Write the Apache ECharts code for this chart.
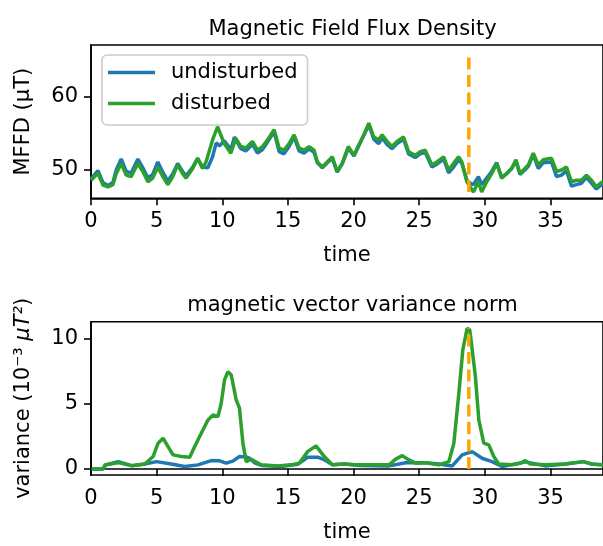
<!DOCTYPE html>
<html>
<head>
<meta charset="utf-8">
<script src="https://cdn.jsdelivr.net/npm/echarts@6/dist/echarts.min.js"></script>
<style>html,body{margin:0;padding:0;background:#fff}#c{width:603px;height:546px}</style>
</head>
<body>
<div id="c"></div>
<script>
// ---- Top panel: Magnetic Field Flux Density (µT) ----
var topTimeDist = [0.0,0.53,0.91,1.29,1.67,1.92,2.3,2.68,3.06,3.57,3.95,4.33,4.7,5.09,5.47,5.85,6.23,6.6,6.98,7.24,7.75,8.12,8.5,8.76,9.26,9.64,10.15,10.65,11.03,11.41,11.79,12.3,12.68,13.06,13.44,13.95,14.33,14.7,15.09,15.47,15.85,16.23,16.61,16.99,17.24,17.62,18.0,18.38,18.75,19.13,19.6,20.03,20.4,20.78,21.16,21.54,21.92,22.17,22.55,22.93,23.31,23.81,24.19,24.7,25.08,25.46,25.97,26.35,26.86,27.24,27.62,28.0,28.25,28.63,28.88,29.13,29.51,29.76,30.14,30.52,30.9,31.28,31.66,32.04,32.37,32.68,33.05,33.31,33.69,34.07,34.45,35.08,35.46,35.84,36.22,36.6,36.98,37.36,37.74,38.12,38.5,38.8,39.0];
var topDisturbed = [48.6,49.55,47.95,47.7,48.0,49.5,50.9,49.3,49.1,50.9,49.8,48.4,48.9,50.4,49.1,48.0,49.1,50.7,49.5,48.9,50.2,51.6,50.2,51.1,54.1,55.9,53.6,52.3,54.3,53.2,53.0,53.9,52.7,53.2,54.1,55.5,53.0,52.7,53.6,54.8,53.0,52.7,53.2,52.7,51.1,50.4,51.1,51.8,49.8,50.9,53.2,52.0,53.4,54.8,56.4,54.5,54.1,54.8,53.9,53.2,53.9,54.5,52.5,52.0,52.5,52.7,50.7,51.1,51.8,50.0,50.9,51.8,51.1,48.4,47.7,47.0,48.4,47.0,48.4,49.5,50.9,48.9,49.5,50.2,51.4,49.5,50.2,50.7,52.3,50.7,51.4,51.6,49.8,50.0,50.4,48.4,48.6,48.6,49.3,48.6,47.7,48.2,48.4];
var topTimeUndist = [0.0,0.53,0.91,1.29,1.67,1.92,2.3,2.68,3.06,3.57,3.95,4.33,4.7,5.09,5.47,5.85,6.23,6.6,6.98,7.24,7.75,8.12,8.5,8.9,9.26,9.54,9.8,10.15,10.65,10.93,11.41,11.79,12.3,12.68,13.06,13.44,13.95,14.33,14.7,15.09,15.47,15.85,16.23,16.61,16.99,17.24,17.62,18.0,18.38,18.75,19.13,19.6,20.03,20.4,20.78,21.16,21.54,21.92,22.17,22.55,22.93,23.31,23.81,24.19,24.7,25.08,25.46,25.97,26.35,26.86,27.24,27.62,28.0,28.25,28.63,28.88,29.13,29.51,29.76,30.14,30.52,30.9,31.28,31.66,32.04,32.37,32.68,33.05,33.31,33.69,34.07,34.45,35.08,35.46,35.84,36.22,36.6,36.98,37.36,37.74,38.12,38.5,38.8,39.0];
var topUndisturbed = [48.8,49.9,48.3,47.9,48.3,50.0,51.5,49.8,49.6,51.5,50.3,48.9,49.4,51.1,49.7,48.5,49.5,50.9,49.8,49.2,50.4,51.6,50.4,50.3,51.8,53.7,53.3,54.0,52.8,54.5,52.9,52.6,53.5,52.3,52.8,53.8,55.2,52.5,52.2,53.2,54.5,52.6,52.3,52.9,52.4,51.0,50.3,51.0,51.6,49.7,50.8,53.0,51.9,53.3,54.7,56.2,54.2,53.6,54.4,53.5,52.9,53.6,54.2,52.2,51.7,52.2,52.4,50.4,50.8,51.5,49.6,50.4,51.4,50.9,48.6,48.2,48.0,49.1,48.0,48.9,49.8,51.0,49.0,49.5,50.2,51.2,49.4,50.0,50.5,52.1,50.2,51.0,51.1,49.1,49.3,49.9,47.8,48.0,48.2,49.0,48.2,47.4,47.9,48.1];

// ---- Bottom panel: magnetic vector variance norm (1e-3 µT²) ----
var botTimeDist = [0.05,0.93,1.06,2.07,3.09,4.1,4.73,5.11,5.49,5.87,6.25,6.89,7.52,7.9,8.4,8.91,9.29,9.67,9.92,10.17,10.43,10.68,11.06,11.31,11.57,11.82,12.2,12.96,14.22,15.24,15.87,16.5,17.14,17.77,18.4,19.29,20.17,21.44,22.7,23.21,23.71,24.22,24.73,25.49,26.5,27.26,27.64,28.02,28.32,28.65,28.85,28.98,29.28,29.54,29.92,30.3,30.68,31.06,32.07,32.7,33.08,33.46,34.6,36.12,37.51,38.14,38.78,39.0];
var botDisturbed = [0,0,0.31,0.48,0.25,0.38,0.95,1.98,2.36,1.72,1.08,0.95,0.9,1.72,2.75,3.77,4.15,4.02,5.05,6.85,7.48,7.23,5.31,4.67,1.98,0.56,0.75,0.31,0.23,0.31,0.44,1.33,1.77,0.95,0.31,0.38,0.31,0.31,0.31,0.75,1.02,0.69,0.44,0.48,0.31,0.56,1.98,5.82,9.15,10.82,10.69,9.67,7.1,3.77,1.98,1.85,0.95,0.38,0.31,0.44,0.64,0.38,0.31,0.38,0.56,0.38,0.31,0.31];
var botTimeUndist = [0.05,0.93,1.1,2.07,3.09,4.0,4.99,6.0,7.14,8.15,9.16,9.8,10.3,10.8,11.31,11.8,12.07,12.5,13.0,14.48,15.74,16.5,17.26,17.8,18.4,19.29,20.5,22.7,23.97,25.49,26.5,27.52,28.27,29.03,29.79,30.55,31.31,33.1,34.6,36.12,37.51,38.14,39.0];
var botUndisturbed = [0,0,0.3,0.55,0.25,0.35,0.56,0.4,0.18,0.31,0.64,0.62,0.44,0.6,0.95,0.92,0.82,0.45,0.27,0.18,0.36,0.9,0.9,0.69,0.31,0.38,0.27,0.23,0.48,0.48,0.38,0.23,1.08,1.33,0.82,0.56,0.18,0.54,0.23,0.38,0.56,0.38,0.31];

// ---- Event marker ----
var eventTime = 28.78;
var eventTopRange = [47.0, 66.0];
var eventBotRange = [0, 10.82];

var xTicks = [0,5,10,15,20,25,30,35];
var topYTicks = [50, 60];
var botYTicks = [0, 5, 10];

function pairs(ts, vs){ return ts.map(function(t,i){ return [t, vs[i]]; }); }

var FONT = 'DejaVu Sans';
var BLUE = '#1f77b4', GREEN = '#2ca02c', ORANGE = '#ffa500';
var LW = 3.5, SW = 1.6;

function xAxisDef(gi){
  return {
    type:'value', gridIndex:gi, min:0, max:39.0, interval:5,
    name:'time', nameLocation:'middle', nameGap:47,
    nameTextStyle:{fontFamily:FONT, fontSize:21, color:'#000'},
    axisLine:{show:true, lineStyle:{color:'#000', width:SW}},
    axisTick:{show:true, length:7, lineStyle:{color:'#000', width:SW}},
    axisLabel:{margin:13, fontFamily:FONT, fontSize:21, color:'#000', showMaxLabel:false},
    splitLine:{show:false}
  };
}

var chart = echarts.init(document.getElementById('c'), null, {renderer:'canvas'});
chart.setOption({
  animation:false,
  backgroundColor:'#fff',
  title:[
    {text:'Magnetic Field Flux Density', left:347.5, textAlign:'center', top:14,
     textStyle:{fontFamily:FONT, fontSize:21, fontWeight:'normal', color:'#000'}},
    {text:'magnetic vector variance norm', left:347.5, textAlign:'center', top:290,
     textStyle:{fontFamily:FONT, fontSize:21, fontWeight:'normal', color:'#000'}}
  ],
  legend:{
    data:['undisturbed','disturbed'],
    orient:'vertical', left:102, top:55,
    padding:[7,10,11,6], itemGap:10, itemWidth:47, itemHeight:3.5, icon:'rect',
    backgroundColor:'rgba(255,255,255,0.8)', borderColor:'#cccccc', borderWidth:1.6, borderRadius:5,
    textStyle:{fontFamily:FONT, fontSize:21, color:'#000', lineHeight:21, padding:[0,0,0,11]}
  },
  grid:[
    {left:91, top:45, width:514, height:153.3, show:true, borderColor:'#000', borderWidth:SW, backgroundColor:'transparent'},
    {left:91, top:321.7, width:514, height:153.3, show:true, borderColor:'#000', borderWidth:SW, backgroundColor:'transparent'}
  ],
  xAxis:[xAxisDef(0), xAxisDef(1)],
  yAxis:[
    {type:'value', gridIndex:0, min:46.14, max:67.05,
     name:'MFFD (μT)', nameLocation:'middle', nameGap:57,
     nameTextStyle:{fontFamily:FONT, fontSize:21, color:'#000'},
     axisLine:{show:true, lineStyle:{color:'#000', width:SW}},
     axisTick:{show:true, length:7, customValues:topYTicks, lineStyle:{color:'#000', width:SW}},
     axisLabel:{margin:13, customValues:topYTicks, fontFamily:FONT, fontSize:21, color:'#000'},
     splitLine:{show:false}},
    {type:'value', gridIndex:1, min:-0.47, max:11.33,
     name:'{n|variance (10⁻³ }{i|μT²}{n|)}', nameLocation:'middle', nameGap:57,
     nameTextStyle:{fontFamily:FONT, fontSize:21, color:'#000',
       rich:{n:{fontFamily:FONT, fontSize:21, color:'#000'}, i:{fontFamily:FONT, fontSize:21, fontStyle:'italic', color:'#000'}}},
     axisLine:{show:true, lineStyle:{color:'#000', width:SW}},
     axisTick:{show:true, length:7, customValues:botYTicks, lineStyle:{color:'#000', width:SW}},
     axisLabel:{margin:13, customValues:botYTicks, fontFamily:FONT, fontSize:21, color:'#000'},
     splitLine:{show:false}}
  ],
  series:[
    {name:'undisturbed', type:'line', xAxisIndex:0, yAxisIndex:0, data:pairs(topTimeUndist, topUndisturbed),
     showSymbol:false, symbol:'none', lineStyle:{color:BLUE, width:LW}, itemStyle:{color:BLUE}, z:2},
    {name:'disturbed', type:'line', xAxisIndex:0, yAxisIndex:0, data:pairs(topTimeDist, topDisturbed),
     showSymbol:false, symbol:'none', lineStyle:{color:GREEN, width:LW}, itemStyle:{color:GREEN}, z:3},
    {name:'event', type:'line', xAxisIndex:0, yAxisIndex:0, data:[[eventTime, eventTopRange[0]],[eventTime, eventTopRange[1]]],
     showSymbol:false, symbol:'none', lineStyle:{color:ORANGE, width:LW, type:[12,5.5]}, z:4},
    {name:'undisturbed', type:'line', xAxisIndex:1, yAxisIndex:1, data:pairs(botTimeUndist, botUndisturbed),
     showSymbol:false, symbol:'none', lineStyle:{color:BLUE, width:LW}, itemStyle:{color:BLUE}, z:2},
    {name:'disturbed', type:'line', xAxisIndex:1, yAxisIndex:1, data:pairs(botTimeDist, botDisturbed),
     showSymbol:false, symbol:'none', lineStyle:{color:GREEN, width:LW}, itemStyle:{color:GREEN}, z:3},
    {name:'event', type:'line', xAxisIndex:1, yAxisIndex:1, data:[[eventTime, eventBotRange[0]],[eventTime, eventBotRange[1]]],
     showSymbol:false, symbol:'none', lineStyle:{color:ORANGE, width:LW, type:[12,5.5]}, z:4}
  ]
});
</script>
</body>
</html>
